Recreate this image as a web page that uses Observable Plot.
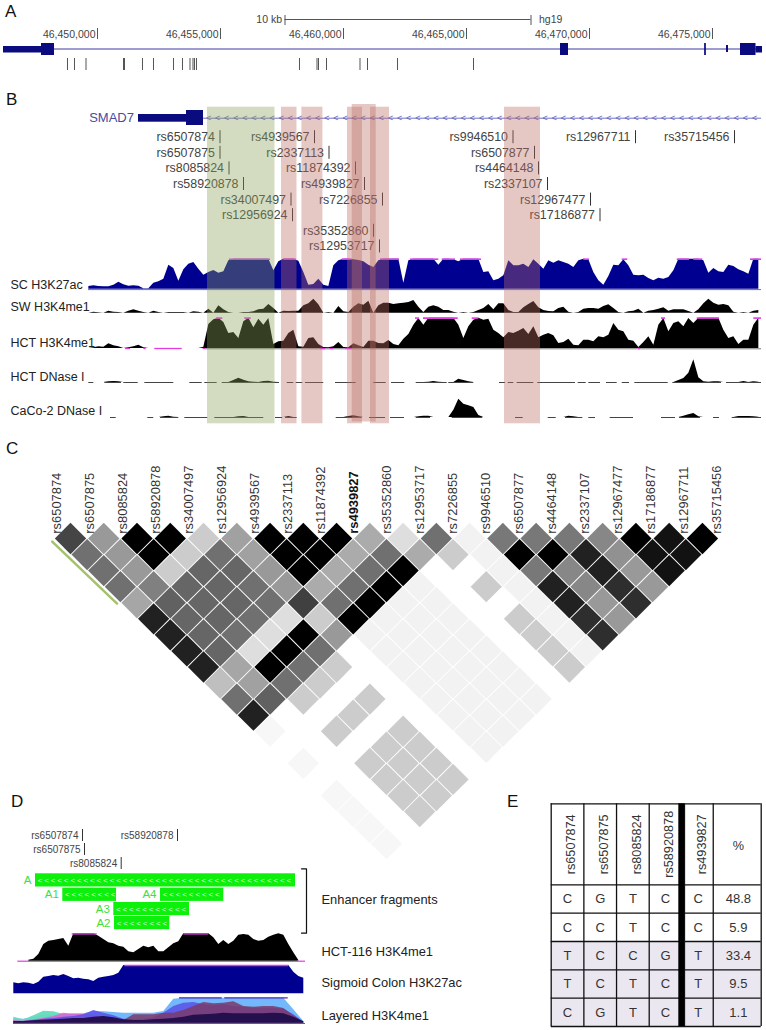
<!DOCTYPE html>
<html><head><meta charset="utf-8">
<script src="https://cdn.jsdelivr.net/npm/d3@7"></script>
<script src="https://cdn.jsdelivr.net/npm/@observablehq/plot@0.6"></script>
<style>
body{margin:0;background:#fff}
#page{position:relative;width:766px;height:1030px;overflow:hidden;font-family:"Liberation Sans",sans-serif}
#page svg{position:absolute;left:0}
.letter{position:absolute;font-size:17px;line-height:17px;color:#111}
</style></head><body><div id="page"></div>
<script>
// ---------- DATA ----------
const ldSnps = ["rs6507874","rs6507875","rs8085824","rs58920878","rs34007497","rs12956924","rs4939567","rs2337113","rs11874392","rs4939827","rs35352860","rs12953717","rs7226855","rs9946510","rs6507877","rs4464148","rs2337107","rs12967477","rs17186877","rs12967711","rs35715456"];
// r2 (%) by separation between SNPs; row k pairs SNP i with SNP i+k+1
const ldRows = [
 [73,40,100,100,20,37,100,100,100,33,13,56,5,53,53,53,47,100,93,100],
 [56,40,100,20,56,37,100,100,33,56,33,20,5,100,100,87,43,93,93],
 [56,40,20,60,60,40,100,33,56,100,0,0,5,53,47,87,40,93],
 [56,50,60,60,56,40,33,56,100,5,0,20,5,87,47,82,40],
 [35,62,60,60,56,75,56,100,5,5,0,0,5,87,40,82],
 [87,60,60,56,13,20,100,5,5,5,0,20,5,82,40],
 [87,60,56,13,100,40,5,5,5,5,0,20,5,82],
 [87,60,13,100,56,0,5,5,5,5,0,20,5],
 [87,35,100,56,20,0,5,5,5,5,0,20],
 [25,37,56,20,0,0,5,5,5,5,0],
 [56,62,20,0,20,0,5,5,5,5],
 [87,0,0,20,0,0,5,5,5],
 [3,0,20,0,20,0,5,5],
 [0,0,0,20,20,0,5],
 [3,0,20,20,20,0],
 [0,0,20,20,20],
 [3,0,20,20],
 [3,0,20],
 [3,0],
 [3]
];
const ldBlockLine = [{u:-0.55,k:0.19},{u:1.4,k:4.05}];

// Panel A, genomic coordinates (hg19)
const axisTicks = [46450000,46455000,46460000,46465000,46470000,46475000];
const scaleBar = [46457622,46467622];
const geneSpan = [46446179,46477033];
const geneUtr = [[46446179,46447724],[46476768,46477033]];
const geneExons = [[46447724,46448252],[46468821,46469146],[46474680,46474750],[46476138,46476768]];
const geneThinExon = [[46475570,46475650]];
const snpPositionsA = [46448780,46449065,46449533,46451057,46451098,46451829,46452276,46453089,46453455,46453760,46453882,46453943,46454024,46458211,46458923,46458984,46459309,46460671,46460976,46462195,46465285];

// Panel B, positions along the zoomed window
const geneB = {name:"SMAD7", utr:[138,186], exon:[186,203], span:[203,761]};
const snpB = ["rs6507874","rs6507875","rs8085824","rs58920878","rs34007497","rs12956924","rs4939567","rs2337113","rs11874392","rs4939827","rs7226855","rs35352860","rs12953717","rs9946510","rs6507877","rs4464148","rs2337107","rs12967477","rs17186877","rs12967711","rs35715456"];
const snpBPos = [219.5,219.5,228.5,243,290.5,292,314,328.5,355,364,382,373,379,512.5,534,538,547,590,599.5,635,734];
const snpBRow = [0,1,2,3,4,5,0,1,2,3,4,6,7,0,1,2,3,4,5,0,0];
const greenBand = [207,274.5];
const pinkBands = [[281,296.5],[301.4,322.4],[347,362],[370,389],[504,540]];
const tallBand = [351.7,375.7];

const trackNames = ["SC H3K27ac","SW H3K4me1","HCT H3K4me1","HCT DNase I","CaCo-2 DNase I"];
const scH3K27ac = [8,10,8,7,7,12,21,13,9,10,9,1,1,18,22,30,72,62,24,58,75,80,60,42,50,56,48,52,85,90,90,90,90,90,90,90,90,55,82,90,90,90,84,50,12,14,30,12,8,70,85,90,90,88,86,82,72,65,85,90,90,90,90,18,85,90,90,90,
 90,90,72,90,90,88,82,90,90,90,90,50,52,25,30,40,85,70,70,75,65,88,75,60,85,78,85,80,75,65,85,90,88,50,25,12,38,72,70,88,70,42,40,42,32,25,33,30,35,55,90,90,90,90,90,85,48,62,52,50,72,68,58,52,45,90,90];
const swH3K4me1 = [0,3,1,0,6,3,2,0,6,10,6,2,0,6,2,0,2,2,2,2,0,4,3,0,12,0,22,10,2,0,0,2,2,4,10,12,26,14,0,6,5,6,6,22,28,42,25,0,2,0,20,4,2,18,28,24,36,0,22,30,30,26,28,30,32,38,18,2,
 18,22,18,8,8,3,0,2,0,2,8,14,26,10,28,28,8,2,2,16,26,35,16,8,5,4,14,18,3,0,2,12,14,14,12,20,25,14,2,0,4,6,12,0,6,8,12,16,6,10,10,10,5,0,10,28,42,30,24,26,22,3,0,2,0,6,8];
const hctH3K4me1 = [0,2,5,4,14,8,5,0,2,5,10,2,0,0,0,0,0,0,0,0,0,0,0,4,72,86,91,78,45,48,30,80,91,62,88,70,90,12,20,22,45,55,5,4,30,32,12,3,2,5,18,3,2,14,8,3,22,22,15,14,24,12,8,28,42,70,90,70,
 91,91,91,91,91,91,70,30,65,85,91,85,88,55,45,32,48,45,52,60,42,65,32,40,45,38,15,18,28,10,8,25,25,20,35,32,40,75,55,50,25,22,3,18,35,10,70,90,50,75,80,65,90,75,91,91,91,91,91,55,30,35,12,25,25,70,91];
const hctDNase = [0,0,0,0,2,3,2,0,0,0,0,0,0,0,0,0,0,0,0,0,0,0,0,0,0,0,0,0,0,6,13,7,2,1,0,3,4,1,0,0,0,0,0,0,0,0,0,0,0,0,0,0,0,0,0,0,0,0,0,0,0,0,0,0,0,0,0,0,
 1,3,1,0,0,0,10,6,2,0,0,0,0,0,0,0,0,0,0,0,0,0,0,0,0,0,0,0,0,0,0,0,0,0,0,0,0,0,0,0,0,0,0,0,0,0,0,0,0,0,6,12,28,68,14,2,1,2,2,0,0,0,0,3,0,2,1];
const cacoDNase = [0,0,0,0,0,0,0,0,0,0,0,0,0,0,0,2,4,1,0,0,0,0,0,0,0,0,0,0,0,0,2,3,0,0,0,0,0,0,0,0,3,0,0,0,0,0,0,0,0,0,0,0,3,5,2,0,0,0,0,0,0,0,0,0,0,0,2,4,
 4,0,0,0,0,22,55,40,35,30,6,0,0,0,0,0,0,0,0,0,0,0,0,0,0,0,0,0,4,2,0,0,0,0,0,0,0,0,0,0,0,0,0,0,0,0,0,0,0,0,0,4,8,12,2,0,0,0,0,0,0,0,3,3,3,2,1];
const scClamp = [[229,270],[283.3,295.7],[341.7,351.7],[380,399],[410,438.3],[441.7,455],[460,481],[583.3,589],[621.7,627.3],[676.7,689],[693.3,702.3],[750,761]];
const hctClamp = [[216,222.3],[244.3,250.7],[415,419],[423,457.7],[471.7,478.3],[661,665],[696.7,719],[753.3,761]];
const hctNoData = [[125,130],[143.3,145.7],[154.3,181.7],[202.7,205],[320,325],[330,333.3],[345,351.7],[638,640]];
const hctDNaseCover = [[88.3,93.3],[104.3,121],[123.3,137.7],[144.3,173.3],[189.3,201.7],[204.3,216.7],[221.7,279],[286.7,293.3],[295.7,302.3],[305,323.3],[335,355.7],[373.3,385.7],[391,404.3],[415.7,446.7],[448.3,473.3],[499,505],[507.7,513.3],[516.7,533.3],[537.3,575],[577.7,585.7],[588.3,600],[606,616.7],[621.7,629],[634.3,667.7],[672.3,721],[726,761]];
const cacoCover = [[110,115.7],[147.3,153.3],[160,178.3],[184.3,207.3],[214.3,263.3],[275,282.3],[285,296.7],[335.7,361.7],[369,385],[390,404],[415.7,430],[451.7,482.3],[515,522.7],[547.7,555.7],[565,582.3],[588.3,595],[609.7,633],[661,675],[679,700],[713,719],[731.7,761]];

// Panel D
const fragNames = ["A","A1","A4","A3","A2"];
const fragSpans = [[35,295],[62.3,116],[160,223.3],[113.3,189],[114,169.3]];
const fragRows = [0,1,1,2,3];
const snpD = ["rs6507874","rs6507875","rs8085824","rs58920878"];
const snpDPos = [82,84,120.7,177];
const snpDRow = [0,1,2,0];
const dTrackNames = ["Enhancer fragments","HCT-116 H3K4me1","Sigmoid Colon H3K27ac","Layered H3K4me1"];
const dHct = [3,6,20,50,60,62,65,68,45,82,82,82,82,82,75,65,55,52,45,42,28,25,35,45,40,45,28,28,40,52,58,82,82,82,82,82,82,70,50,62,50,60,78,80,78,65,60,62,72,78,82,78,50,25,2];
const dSig = [33,30,33,32,28,35,50,52,55,53,58,52,45,47,44,42,37,47,50,52,55,62,85,85,85,85,85,85,85,85,85,85,85,85,85,85,85,85,85,85,85,85,85,85,85,85,85,85,85,85,85,85,85,85,85,85,65,52,47];
const dHctClamp = [[71.7,96.7],[183.3,208.3]];
const dHctNoData = [[17.3,28.3],[296.7,305]];
const dSigClamp = [[124.3,288.3]];
const dLayerClamp = [[179,221.7],[224.3,287.7]];
const layerSky = [12,12,16,24,24,26,28,28,34,34,32,30,30,30,30,35,72,75,75,75,75,75,75,75,75,75,75,75,40,5];
const layerTeal = [18,10,22,36,34,26,20,15,10,5,0,0,0,0,0,0,0,0,0,0,0,0,0,0,0,0,0,0,0,0];
const layerPink = [8,6,10,14,20,30,26,26,22,18,12,8,4,0,0,0,0,0,0,0,0,0,0,0,0,0,0,0,0,0];
const layerViolet = [5,5,8,12,14,18,20,25,38,30,22,12,10,12,15,30,50,60,62,55,52,55,50,48,45,45,45,42,25,3];
const layerPlum = [2,3,5,6,8,10,10,10,14,14,8,8,25,25,25,30,30,38,50,62,58,60,64,50,48,50,50,44,22,3];
const layerNavy = [5,5,7,9,10,12,14,14,18,20,16,10,8,8,10,12,14,18,24,25,27,30,28,28,28,28,30,28,18,4];

// Panel E
const hapSnps = ["rs6507874","rs6507875","rs8085824","rs58920878","rs4939827"];
const hapRows = ["CGTCC","CCTCC","TCCGT","TCTCT","CGTCT"];
const hapPct = ["48.8","5.9","33.4","9.5","1.1"];

// ---------- LAYOUT ----------
const page = document.getElementById("page");
const FONT = '"Liberation Sans", Arial, sans-serif';
function place(plot, top){ plot.style.top = top+"px"; page.appendChild(plot); }
function letter(t,x,y){ const s=document.createElement("div"); s.className="letter"; s.textContent=t; s.style.left=x+"px"; s.style.top=y+"px"; page.appendChild(s); }
const base = {width:766, marginTop:0, marginRight:0, marginBottom:0, marginLeft:0, style:{background:"transparent",fontFamily:FONT}};
const spanY = (top,h)=>({domain:[top+h,top], axis:null});
const CURVE = "linear";

// ---------- PANEL A ----------
{
 const top=0,h=85, rows=[{t:43,b:55},{t:46,b:52.5},{t:45,b:52}];
 const navy="#0b0b80";
 place(Plot.plot({...base,height:h,
  x:{domain:[46446057,46477195],axis:null}, y:spanY(top,h),
  marks:[
   Plot.ruleY([19],{x1:scaleBar[0],x2:scaleBar[1],stroke:"#555",strokeWidth:1.2}),
   Plot.ruleX(scaleBar,{y1:15,y2:25,stroke:"#555",strokeWidth:1}),
   Plot.text(["10 kb"],{x:scaleBar[0],y:19,dx:-3,textAnchor:"end",fontSize:10.5,fill:"#444"}),
   Plot.text(["hg19"],{x:scaleBar[1],y:19,dx:8,textAnchor:"start",fontSize:10.5,fill:"#444"}),
   Plot.ruleX(axisTicks,{y1:28,y2:39,stroke:"#555",strokeWidth:1}),
   Plot.text(axisTicks,{x:d=>d,y:34,dx:-2,text:d=>d3.format(",")(d),textAnchor:"end",fontSize:10.5,fill:"#444"}),
   Plot.ruleY([48.5],{x1:geneSpan[0],x2:geneSpan[1],stroke:"#3a3aa0",strokeWidth:1}),
   Plot.rect(geneUtr,{x1:d=>d[0],x2:d=>d[1],y1:rows[1].t,y2:rows[1].b,fill:navy}),
   Plot.rect(geneExons,{x1:d=>d[0],x2:d=>d[1],y1:rows[0].t,y2:rows[0].b,fill:navy}),
   Plot.rect(geneThinExon,{x1:d=>d[0],x2:d=>d[1],y1:rows[2].t,y2:rows[2].b,fill:navy}),
   Plot.ruleX(snpPositionsA,{y1:58,y2:70,stroke:"#555",strokeWidth:1})
  ]}),top);
}

// ---------- PANEL B ----------
{
 const top=85,h=355, x0=88.33, step=5;
 const rowY=r=>136.7+15.6*r;
 const series=(vals,b)=>vals.map((v,i)=>({x:x0+i*step,y1:b,y2:b-v/3}));
 const bases=[288.7,312.7,348,382,417];
 const labelY=[284,306.7,342.7,376,410];
 const chev=d3.range(208,761,9.1);
 const seg=(arr,y,stroke,w)=>Plot.ruleY(arr,{x1:d=>d[0],x2:d=>d[1],y,stroke,strokeWidth:w});
 const track=(vals,b,fill)=>Plot.areaY(series(vals,b),{x:"x",y1:"y1",y2:"y2",fill,curve:CURVE});
 place(Plot.plot({...base,height:h,
  x:{domain:[0,766],axis:null}, y:spanY(top,h),
  marks:[
   Plot.text([geneB.name],{x:geneB.utr[0],y:117.7,dx:-4.5,textAnchor:"end",fontSize:13,fill:"#4a4a9e"}),
   Plot.ruleY([117.7],{x1:geneB.span[0],x2:geneB.span[1],stroke:"#7070c8",strokeWidth:1}),
   Plot.text(chev,{x:d=>d,y:117.3,text:()=>"<",fontSize:9,fill:"#6464bc"}),
   Plot.rect([geneB.utr],{x1:d=>d[0],x2:d=>d[1],y1:114,y2:121.7,fill:"#0b0b80"}),
   Plot.rect([geneB.exon],{x1:d=>d[0],x2:d=>d[1],y1:110,y2:125,fill:"#0b0b80"}),
   Plot.text(snpB,{x:(d,i)=>snpBPos[i],y:(d,i)=>rowY(snpBRow[i]),dx:-5,textAnchor:"end",fontSize:12.4,fill:"#444"}),
   Plot.ruleX(snpB,{x:(d,i)=>snpBPos[i],y1:(d,i)=>rowY(snpBRow[i])-6.5,y2:(d,i)=>rowY(snpBRow[i])+6.5,stroke:"#333",strokeWidth:1}),
   Plot.text(trackNames,{x:10,y:(d,i)=>labelY[i],textAnchor:"start",fontSize:12.5,fill:"#222"}),
   track(scH3K27ac,bases[0],"#000090"),
   seg([[88,761]],bases[0]+.4,"#6868e0",1),
   seg(scClamp,bases[0]-30,"#e23be2",1.6),
   track(swH3K4me1,bases[1],"#000"),
   track(hctH3K4me1,bases[2],"#000"),
   seg([[205,761]],bases[2]+.3,"#777",1),
   seg(hctClamp,bases[2]-30.4,"#e23be2",1.6),
   seg(hctNoData,bases[2],"#e23be2",1.3),
   seg(hctDNaseCover,bases[3],"#444",1),
   track(hctDNase,bases[3],"#000"),
   seg(cacoCover,bases[4],"#444",1),
   track(cacoDNase,bases[4],"#000"),
   Plot.rect([greenBand],{x1:d=>d[0],x2:d=>d[1],y1:106.7,y2:423.3,fill:"rgb(139,163,89)",fillOpacity:.38}),
   Plot.rect(pinkBands,{x1:d=>d[0],x2:d=>d[1],y1:106.7,y2:423.3,fill:"rgb(187,110,100)",fillOpacity:.38}),
   Plot.rect([tallBand],{x1:d=>d[0],x2:d=>d[1],y1:104,y2:421.5,fill:"rgb(187,110,100)",fillOpacity:.38})
  ]}),top);
}

// ---------- PANEL C ----------
{
 const h=420, top=440;
 const cells=ldRows.flatMap((row,k)=>row.map((v,i)=>({u:i+k/2,k,v}))).filter(d=>d.v>0);
 const labelU=i=>(56.7+33*i-70)/33.26;
 const idx=ldSnps.map((s,i)=>({s,i}));
 const lab={x:d=>labelU(d.i),y:-0.3,text:"s",rotate:-90,textAnchor:"start",lineAnchor:"middle",fontSize:12.9,fill:"#333"};
 place(Plot.plot({...base,height:h,
  x:{domain:[-70/33.26,(766-70)/33.26],axis:null},
  y:{domain:[(860-538)/16.06,(440-538)/16.06],axis:null},
  color:{type:"linear",domain:[0,100],range:["#ffffff","#000000"]},
  marks:[
   Plot.dot(cells,{x:"u",y:"k",r:12.5,symbol:"square",rotate:45,fill:"v"}),
   Plot.line(ldBlockLine,{x:"u",y:"k",stroke:"#a5c26b",strokeWidth:2.5}),
   Plot.text(idx.filter(d=>d.i!==9),lab),
   Plot.text(idx.filter(d=>d.i===9),{...lab,fontWeight:"bold",fill:"#111"})
  ]}),top);
}

// ---------- PANEL D ----------
{
 const top=825,h=205;
 const rowY=r=>835+14*r, fragY=r=>[873.3,887.7,902,916][r], fragH=13.2;
 const series=(vals,x0,st,b)=>vals.map((v,i)=>({x:x0+i*st,y1:b,y2:b-v/3}));
 const layerX0=13.3, layerStep=10, lb=1022.7;
 const chevrons=fragSpans.flatMap(([a,b],i)=>d3.range(a+4.5,b-3,6.55).map(x=>({x,r:fragRows[i]})));
 const green="#0cf00c";
 const fragLabels=fragNames.map((n,i)=>({n,x:fragSpans[i][0],r:fragRows[i]}));
 const textRows=[899,951.7,982.7,1015];
 const layer=(vals,fill,o)=>Plot.areaY(series(vals,layerX0,layerStep,lb),{x:"x",y1:"y1",y2:"y2",fill,fillOpacity:o});
 const seg=(arr,y,stroke,w)=>Plot.ruleY(arr,{x1:d=>d[0],x2:d=>d[1],y,stroke,strokeWidth:w});
 place(Plot.plot({...base,height:h,
  x:{domain:[0,766],axis:null}, y:spanY(top,h),
  marks:[
   Plot.text(snpD,{x:(d,i)=>snpDPos[i],y:(d,i)=>rowY(snpDRow[i]),dx:-4,textAnchor:"end",fontSize:10,fill:"#444"}),
   Plot.ruleX(snpD,{x:(d,i)=>snpDPos[i],y1:(d,i)=>rowY(snpDRow[i])-6,y2:(d,i)=>rowY(snpDRow[i])+6,stroke:"#333",strokeWidth:1}),
   Plot.rect(fragSpans,{x1:d=>d[0],x2:d=>d[1],y1:(d,i)=>fragY(fragRows[i]),y2:(d,i)=>fragY(fragRows[i])+fragH,fill:green}),
   Plot.text(chevrons,{x:"x",y:d=>fragY(d.r)+fragH/2,text:()=>"<",fontSize:8,fill:"#d8ffd8"}),
   Plot.text(fragLabels,{x:"x",y:d=>fragY(d.r)+fragH/2,text:"n",dx:-4,textAnchor:"end",fontSize:11.5,fill:"#3ee03e"}),
   Plot.line([[301,868.3],[306,868.3],[306,932.7],[301,932.7]],{x:d=>d[0],y:d=>d[1],stroke:"#111",strokeWidth:1.2}),
   Plot.text(dTrackNames,{x:321,y:(d,i)=>textRows[i],textAnchor:"start",fontSize:12.9,fill:"#222"}),
   Plot.areaY(series(dHct,28.3,5,960.7),{x:"x",y1:"y1",y2:"y2",fill:"#000",curve:CURVE}),
   seg(dHctClamp,933.4,"#e23be2",1.4),
   seg(dHctNoData,960.7,"#e23be2",1.2),
   seg([[28,297]],961,"#777",.8),
   Plot.areaY(series(dSig,13.3,5,993.3),{x:"x",y1:"y1",y2:"y2",fill:"#000090",curve:CURVE}),
   seg(dSigClamp,965,"#e23be2",1.4),
   layer(layerSky,"#72b8fa",1),
   layer(layerTeal,"#62dcbc",.95),
   layer(layerPink,"#e060d0",.85),
   layer(layerViolet,"#5a4fe6",.85),
   layer(layerPlum,"#7a3a6a",.85),
   layer(layerNavy,"#1c0c48",.92),
   seg(dLayerClamp,997.4,"#4a20c8",1.3),
   seg([[13,305]],1023,"#6a5a8a",1)
  ]}),top);
}

// ---------- PANEL E ----------
{
 const top=795,h=235, totalW=6.428, hdr=2.86;
 const edges=[0,1,2,3,4.08,4.96,totalW], lines=[-hdr,0,1,2,3,4,5];
 const cols=[0.5,1.5,2.5,3.5,4.5], pctX=5.73;
 const cells=hapRows.flatMap((r,ri)=>[...r].map((c,ci)=>({c,x:cols[ci],y:ri+.5})));
 place(Plot.plot({...base,height:h,marginLeft:550.7,marginRight:5.3,marginTop:8.3,marginBottom:4,
  x:{domain:[0,totalW],axis:null}, y:{domain:[5,-hdr],axis:null},
  marks:[
   Plot.rect(hapRows.map((r,i)=>i).filter(i=>i>=2),{x1:0,x2:totalW,y1:d=>d,y2:d=>d+1,fill:"#ebe7f1"}),
   Plot.ruleY(lines,{x1:0,x2:totalW,stroke:"#111",strokeWidth:1.3}),
   Plot.ruleX(edges,{y1:-hdr,y2:5,stroke:"#111",strokeWidth:1.3}),
   Plot.rect([0],{x1:3.906,x2:4.08,y1:-hdr,y2:5,fill:"#000"}),
   Plot.text(hapSnps,{x:(d,i)=>cols[i],y:-hdr/2,dx:3.6,rotate:-90,fontSize:12.7,fill:"#333"}),
   Plot.text(["%"],{x:pctX,y:-hdr/2+.05,fontSize:12.7,fill:"#333"}),
   Plot.text(cells,{x:"x",y:"y",text:"c",fontSize:13,fill:"#333"}),
   Plot.text(hapPct,{x:pctX,y:(d,i)=>i+.5,fontSize:13,fill:"#333"})
  ]}),top);
}

letter("A",5,3); letter("B",6,91); letter("C",6,440); letter("D",11,793); letter("E",507,793);
</script></body></html>
